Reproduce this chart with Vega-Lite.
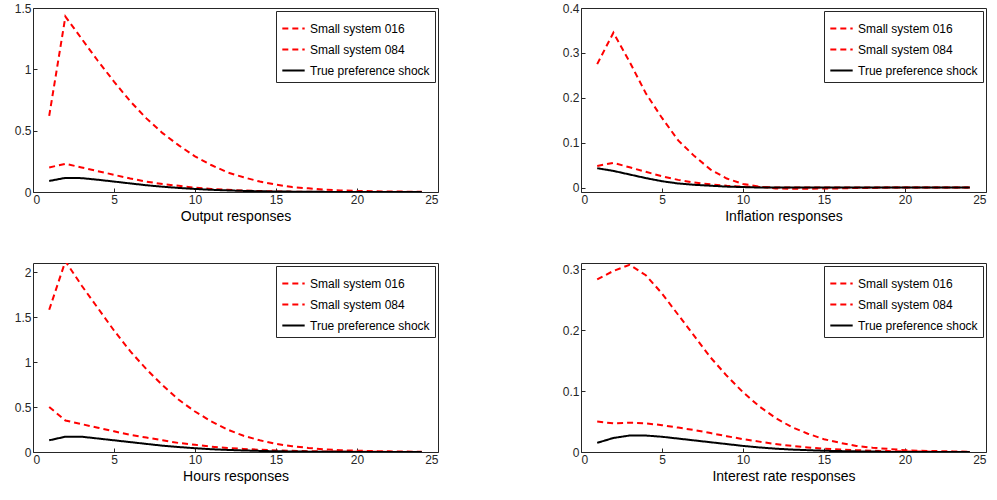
{
"$schema":"https://vega.github.io/schema/vega-lite/v6.json",
"padding":{"left":13,"top":1,"right":5,"bottom":0},
"config":{"font":"Liberation Sans","view":{"stroke":"#262626","strokeWidth":1},
"axis":{"grid":false,"domain":false,"tickColor":"#262626","labelColor":"#262626","titleColor":"#000","labelFontSize":12,"titleFontSize":14,"titleFontWeight":"normal","tickSize":-4,"labelPadding":6,"titlePadding":4,"format":"~g"},
"legend":{"orient":"top-right","strokeColor":"#262626","fillColor":"white","padding":5,"labelFontSize":12,"title":null,"symbolType":"stroke","symbolSize":500,"symbolStrokeWidth":2,"rowPadding":2,"offset":3}},
"spacing":{"row":38,"column":122},
"datasets":{
"d":[
{"p":"o","s":"Small system 016","v":[0.62,1.43,1.25,1.07,0.9,0.74,0.6,0.48,0.38,0.29,0.22,0.16,0.12,0.085,0.06,0.04,0.03,0.02,0.013,0.009,0.006,0.004,0.003,0.002]},
{"p":"o","s":"Small system 084","v":[0.2,0.23,0.2,0.17,0.14,0.11,0.085,0.065,0.05,0.035,0.025,0.018,0.012,0.008,0.005,0.003,0.002,0.001,0.001,0,0,0,0,0]},
{"p":"o","s":"True preference shock","v":[0.09,0.115,0.113,0.1,0.085,0.07,0.055,0.043,0.033,0.025,0.018,0.013,0.009,0.006,0.004,0.003,0.002,0.001,0.001,0,0,0,0,0]},
{"p":"i","s":"Small system 016","v":[0.275,0.345,0.28,0.21,0.155,0.105,0.07,0.04,0.02,0.008,0.002,-0.002,-0.003,-0.003,-0.002,-0.002,-0.001,-0.001,0,0,0,0,0,0]},
{"p":"i","s":"Small system 084","v":[0.048,0.055,0.045,0.035,0.025,0.017,0.011,0.007,0.004,0.002,0.001,0,0,0,0,0,0,0,0,0,0,0,0,0]},
{"p":"i","s":"True preference shock","v":[0.043,0.037,0.029,0.021,0.014,0.009,0.006,0.004,0.002,0.001,0,0,0,0,0,0,0,0,0,0,0,0,0,0]},
{"p":"h","s":"Small system 016","v":[1.58,2.12,1.85,1.6,1.35,1.12,0.92,0.74,0.58,0.45,0.34,0.25,0.18,0.13,0.09,0.065,0.045,0.03,0.02,0.014,0.01,0.007,0.005,0.003]},
{"p":"h","s":"Small system 084","v":[0.5,0.35,0.31,0.27,0.23,0.19,0.16,0.13,0.1,0.08,0.06,0.045,0.034,0.025,0.018,0.013,0.009,0.006,0.004,0.003,0.002,0.001,0.001,0]},
{"p":"h","s":"True preference shock","v":[0.13,0.17,0.17,0.15,0.13,0.11,0.09,0.07,0.055,0.042,0.031,0.023,0.017,0.012,0.008,0.006,0.004,0.003,0.002,0.001,0.001,0,0,0]},
{"p":"r","s":"Small system 016","v":[0.283,0.297,0.307,0.29,0.26,0.225,0.19,0.155,0.125,0.098,0.075,0.056,0.041,0.03,0.021,0.015,0.01,0.007,0.005,0.003,0.002,0.0015,0.001,0.0005]},
{"p":"r","s":"Small system 084","v":[0.05,0.047,0.048,0.047,0.044,0.04,0.036,0.031,0.026,0.021,0.017,0.013,0.01,0.0075,0.0055,0.004,0.003,0.002,0.0015,0.001,0.001,0,0,0]},
{"p":"r","s":"True preference shock","v":[0.015,0.023,0.027,0.027,0.025,0.022,0.019,0.016,0.013,0.01,0.0075,0.0055,0.004,0.003,0.002,0.0015,0.001,0.001,0,0,0,0,0,0]}
]
},
"data":{"name":"d"},
"transform":[{"window":[{"op":"row_number","as":"k"}]},{"flatten":["v"]},{"window":[{"op":"row_number","as":"x"}],"groupby":["k"]}],
"columns":2,
"concat":[
{"width":405,"height":184,"transform":[{"filter":"datum.p=='o'"}],"mark":{"type":"line","strokeWidth":2,"clip":true},
"encoding":{"x":{"field":"x","type":"quantitative","scale":{"domain":[0,25]},"axis":{"values":[0,5,10,15,20,25]},"title":"Output responses"},
"y":{"field":"v","type":"quantitative","scale":{"domain":[0,1.5]},"axis":{"values":[0,0.5,1,1.5]},"title":null},
"color":{"field":"s","type":"nominal","scale":{"domain":["Small system 016","Small system 084","True preference shock"],"range":["#ff0000","#ff0000","#000000"]}},
"strokeDash":{"field":"s","type":"nominal","scale":{"domain":["Small system 016","Small system 084","True preference shock"],"range":[[6,4],[6,4],[1,0]]}}}},
{"width":405,"height":184,"transform":[{"filter":"datum.p=='i'"}],"mark":{"type":"line","strokeWidth":2,"clip":true},
"encoding":{"x":{"field":"x","type":"quantitative","scale":{"domain":[0,25]},"axis":{"values":[0,5,10,15,20,25]},"title":"Inflation responses"},
"y":{"field":"v","type":"quantitative","scale":{"domain":[-0.01,0.4],"nice":false},"axis":{"values":[0,0.1,0.2,0.3,0.4]},"title":null},
"color":{"field":"s","type":"nominal","scale":{"domain":["Small system 016","Small system 084","True preference shock"],"range":["#ff0000","#ff0000","#000000"]}},
"strokeDash":{"field":"s","type":"nominal","scale":{"domain":["Small system 016","Small system 084","True preference shock"],"range":[[6,4],[6,4],[1,0]]}}}},
{"width":405,"height":189,"transform":[{"filter":"datum.p=='h'"}],"mark":{"type":"line","strokeWidth":2,"clip":true},
"encoding":{"x":{"field":"x","type":"quantitative","scale":{"domain":[0,25]},"axis":{"values":[0,5,10,15,20,25]},"title":"Hours responses"},
"y":{"field":"v","type":"quantitative","scale":{"domain":[0,2.1],"nice":false},"axis":{"values":[0,0.5,1,1.5,2]},"title":null},
"color":{"field":"s","type":"nominal","scale":{"domain":["Small system 016","Small system 084","True preference shock"],"range":["#ff0000","#ff0000","#000000"]}},
"strokeDash":{"field":"s","type":"nominal","scale":{"domain":["Small system 016","Small system 084","True preference shock"],"range":[[6,4],[6,4],[1,0]]}}}},
{"width":405,"height":189,"transform":[{"filter":"datum.p=='r'"}],"mark":{"type":"line","strokeWidth":2,"clip":true},
"encoding":{"x":{"field":"x","type":"quantitative","scale":{"domain":[0,25]},"axis":{"values":[0,5,10,15,20,25]},"title":"Interest rate responses"},
"y":{"field":"v","type":"quantitative","scale":{"domain":[0,0.31],"nice":false},"axis":{"values":[0,0.1,0.2,0.3]},"title":null},
"color":{"field":"s","type":"nominal","scale":{"domain":["Small system 016","Small system 084","True preference shock"],"range":["#ff0000","#ff0000","#000000"]}},
"strokeDash":{"field":"s","type":"nominal","scale":{"domain":["Small system 016","Small system 084","True preference shock"],"range":[[6,4],[6,4],[1,0]]}}}}
],
"resolve":{"scale":{"y":"independent","x":"independent","color":"independent","strokeDash":"independent"},"legend":{"color":"independent","strokeDash":"independent"}}
}
